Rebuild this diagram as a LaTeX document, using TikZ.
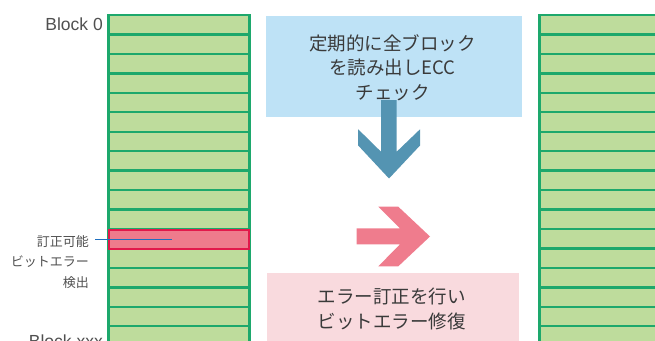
\documentclass[tikz,border=0pt]{standalone}
\usepackage{fontspec}
\setmainfont{Noto Sans CJK JP}
\newfontfamily\latf{Liberation Sans}
\definecolor{gfill}{HTML}{BEDC9C}
\definecolor{gline}{HTML}{1DA86C}
\definecolor{rfill}{HTML}{EE7B8C}
\definecolor{rline}{HTML}{E2194B}
\definecolor{bbox}{HTML}{BEE2F6}
\definecolor{barrow}{HTML}{5494B2}
\definecolor{parrow}{HTML}{EF7C8D}
\definecolor{pbox}{HTML}{F9DADE}
\definecolor{txt}{HTML}{3A3A3A}
\definecolor{ltxt}{HTML}{505050}
\definecolor{linkc}{HTML}{1E6FC0}
\tikzset{
  rowline/.style={gline,line width=2.4pt},
  colborder/.style={gline,line width=2.6pt},
  boxtext/.style={text=txt,align=center,font=\fontsize{18.5}{24.5}\selectfont,inner sep=0pt},
  labtext/.style={text=ltxt,align=right,font=\fontsize{13}{20.5}\selectfont,inner sep=0pt},
  blocktext/.style={text=ltxt,font=\latf\fontsize{17.5}{20}\selectfont,inner sep=0pt},
  linkline/.style={linkc,line width=1.8pt}
}
\begin{document}
\begin{tikzpicture}[x=1pt,y=-1pt]
\useasboundingbox (0,0) rectangle (655,340);
\clip (0,0) rectangle (655,340);
% left column
\fill[gfill] (108.5,15) rectangle (249.5,360);
\foreach \k in {1,...,17} \draw[rowline] (108.5,15+19.45*\k) -- (249.5,15+19.45*\k);
\draw[colborder] (108.5,360) -- (108.5,15) -- (249.5,15) -- (249.5,360);
% error row
\draw[rline,fill=rfill,line width=2.2pt] (109,229.6) rectangle (249,248.6);
% right column
\fill[gfill] (539.5,15) rectangle (670,360);
\foreach \k in {1,...,17} \draw[rowline] (539.5,15+19.45*\k) -- (670,15+19.45*\k);
\draw[colborder] (539.5,360) -- (539.5,15) -- (670,15);
% labels
\node[blocktext,anchor=east] (b0) at (103,24.5) {Block 0};
\node[blocktext,anchor=east] (bx) at (103,341) {Block xxx};
\node[labtext,anchor=east] (lab) at (89,262) {訂正可能\\ビットエラー\\検出};
\coordinate (ls) at (95,239.5);
\coordinate (le) at (172,239.5);
\draw[linkline] (ls) -- (le);
% blue box
\fill[bbox] (265.7,16) rectangle (521.7,116.7);
\node[boxtext] (t1) at (392.5,67.5) {定期的に全ブロック\\を読み出しECC\\チェック};
% blue arrow
\fill[barrow] (381,100) -- (396.7,100) -- (396.7,151.7) -- (420,129.3) -- (420,145.5)
  -- (389,178.5) -- (358.2,145.5) -- (358.2,129.3) -- (381,151.7) -- cycle;
% pink arrow
\fill[parrow] (356.7,228.3) -- (400,228.3) -- (378.3,206.7) -- (398.3,206.7) -- (430,236.5)
  -- (398.3,266.3) -- (378.3,266.3) -- (400,244.3) -- (356.7,244.3) -- cycle;
% pink box
\fill[pbox] (267.3,273.3) rectangle (519.3,345);
\node[boxtext] (t2) at (391.7,309) {エラー訂正を行い\\ビットエラー修復};
\end{tikzpicture}
\end{document}
